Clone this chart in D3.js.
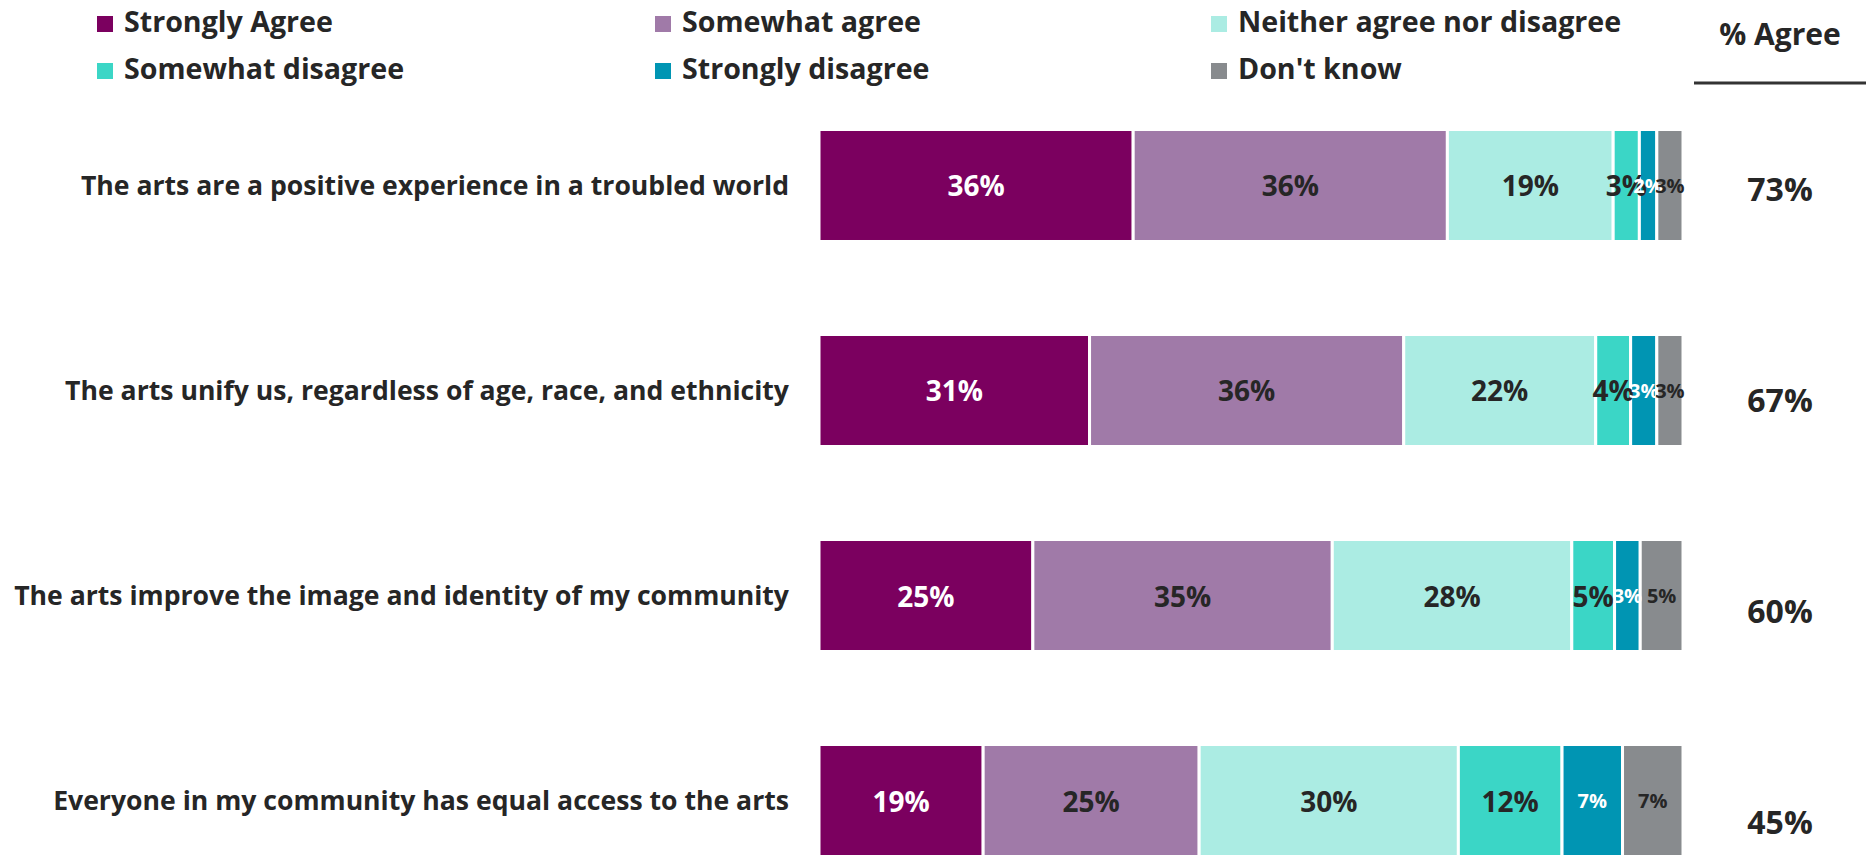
<!DOCTYPE html>
<html>
<head>
<meta charset="utf-8">
<script src="https://cdn.jsdelivr.net/npm/d3@7"></script>
<style>
  html, body { margin: 0; padding: 0; background: #fff; }
  svg { display: block; font-family: "Open Sans", "Noto Sans", sans-serif; font-weight: 700; }
</style>
</head>
<body>
<svg id="chart" width="1866" height="855"></svg>
<script>
// ---- data ----
const categories = [
  "The arts are a positive experience in a troubled world",
  "The arts unify us, regardless of age, race, and ethnicity",
  "The arts improve the image and identity of my community",
  "Everyone in my community has equal access to the arts"
];
const seriesNames = ["Strongly Agree", "Somewhat agree", "Neither agree nor disagree",
                     "Somewhat disagree", "Strongly disagree", "Don't know"];
const stronglyAgree    = [36, 31, 25, 19];
const somewhatAgree    = [36, 36, 35, 25];
const neitherAgree     = [19, 22, 28, 30];
const somewhatDisagree = [3, 4, 5, 12];
const stronglyDisagree = [2, 3, 3, 7];
const dontKnow         = [3, 3, 5, 7];
const pctAgree         = [73, 67, 60, 45];
const agreeHeader = "% Agree";

// ---- styles ----
const colors = ["#7B005F", "#A07AA8", "#ABECE3", "#3BD6C6", "#0095B3", "#888B8E"];
const labelColors = ["#FFFFFF", "#262626", "#262626", "#262626", "#FFFFFF", "#262626"];
const labelSizes = [28, 28, 28, 28, 20, 20];
const dark = "#262626";

const seriesValues = [stronglyAgree, somewhatAgree, neitherAgree, somewhatDisagree, stronglyDisagree, dontKnow];
const rows = categories.map((c, i) => {
  const r = { category: c };
  seriesNames.forEach((s, j) => r[s] = seriesValues[j][i]);
  return r;
});

const stack = d3.stack().keys(seriesNames).offset(d3.stackOffsetExpand);
const stacked = stack(rows);

const svg = d3.select("#chart");

const x = d3.scaleLinear().domain([0, 1]).range([819, 1683]);
const y = d3.scaleBand().domain(categories).range([129.5, 856.5]).paddingInner(0.4537).paddingOuter(0);
const yAgree = d3.scalePoint().domain(categories).range([201, 834]);

// bars
const layers = svg.append("g").selectAll("g")
  .data(stacked).join("g")
  .attr("fill", (d, i) => colors[i]);

layers.selectAll("rect")
  .data(d => d.map(v => ({ v, key: d.key })))
  .join("rect")
  .attr("x", d => x(d.v[0]))
  .attr("y", d => y(d.v.data.category))
  .attr("width", d => x(d.v[1]) - x(d.v[0]))
  .attr("height", y.bandwidth())
  .attr("stroke", "#fff")
  .attr("stroke-width", 3);

// segment labels
const labelLayers = svg.append("g").selectAll("g")
  .data(stacked).join("g")
  .attr("fill", (d, i) => labelColors[i])
  .attr("font-size", (d, i) => labelSizes[i]);

labelLayers.selectAll("text")
  .data(d => d.map(v => ({ v, key: d.key })))
  .join("text")
  .attr("x", d => (x(d.v[0]) + x(d.v[1])) / 2)
  .attr("y", d => y(d.v.data.category) + y.bandwidth() / 2)
  .attr("text-anchor", "middle")
  .attr("dominant-baseline", "central")
  .text(d => d.v.data[d.key] + "%");

// category axis labels
const yAxis = d3.axisLeft(y).tickSize(0).tickPadding(0);
const axisG = svg.append("g")
  .attr("transform", `translate(789,0)`)
  .call(yAxis);
axisG.select(".domain").remove();
axisG.selectAll("text")
  .attr("font-size", 26.6)
  .attr("font-family", "'Open Sans', sans-serif")
  .attr("font-weight", 700)
  .attr("fill", dark)
  .attr("dy", "0.35em");

// % agree column
svg.append("text")
  .attr("x", 1780).attr("y", 45)
  .attr("text-anchor", "middle")
  .attr("font-size", 30)
  .attr("fill", dark)
  .text(agreeHeader);
svg.append("line")
  .attr("x1", 1694).attr("x2", 1866)
  .attr("y1", 83).attr("y2", 83)
  .attr("stroke", "#333").attr("stroke-width", 3);

svg.append("g").selectAll("text")
  .data(categories).join("text")
  .attr("x", 1780)
  .attr("y", d => yAgree(d))
  .attr("text-anchor", "middle")
  .attr("font-size", 32)
  .attr("fill", dark)
  .text((d, i) => pctAgree[i] + "%");

// legend
const legendCols = [97, 655, 1211];
const legendRows = [32, 79];
const legend = svg.append("g").selectAll("g")
  .data(seriesNames).join("g")
  .attr("transform", (d, i) => `translate(${legendCols[i % 3]},${legendRows[Math.floor(i / 3)]})`);
legend.append("rect")
  .attr("x", 0).attr("y", -16)
  .attr("width", 16).attr("height", 16)
  .attr("fill", (d, i) => colors[i]);
legend.append("text")
  .attr("x", 27).attr("y", 0)
  .attr("font-size", 28.6)
  .attr("fill", dark)
  .text(d => d);
</script>
</body>
</html>
